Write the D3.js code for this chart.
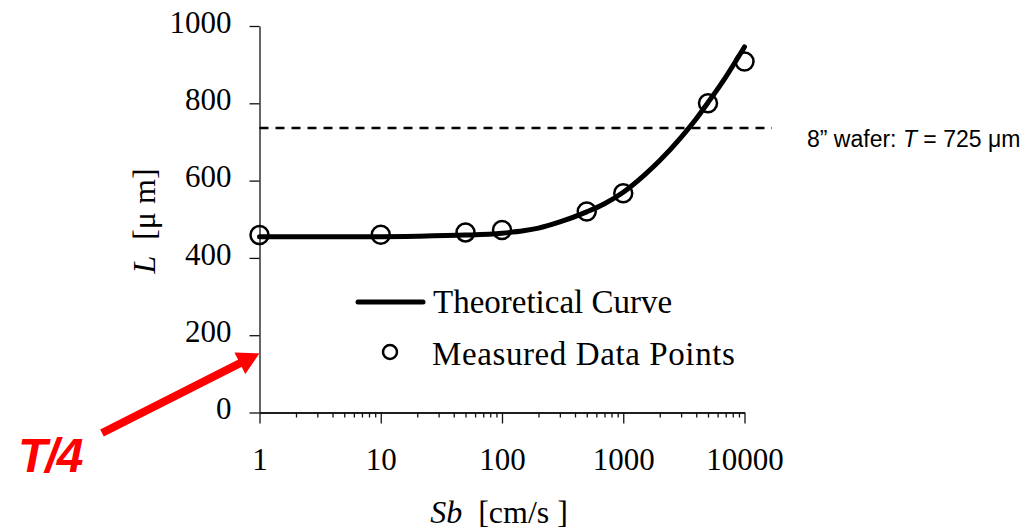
<!DOCTYPE html>
<html>
<head>
<meta charset="utf-8">
<script src="https://cdn.jsdelivr.net/npm/d3@7"></script>
<style>
  html, body { margin: 0; padding: 0; background: #fff; }
  svg { display: block; }
  text { white-space: pre; }
</style>
</head>
<body>
<div id="chart"></div>
<script>
// ---- data ----
const X_TICKS = [1, 10, 100, 1000, 10000];
const Y_TICKS = [0, 200, 400, 600, 800, 1000];

// theoretical curve L(Sb)
const curveSb = [1, 2, 5, 10, 20, 50, 100, 150, 200, 300, 500, 700, 1000, 1500, 2000, 3000, 4000, 5000, 7000, 10000];
const curveL  = [455, 455, 455, 455, 456, 459, 464, 470, 477, 493, 519, 540, 570, 615, 652, 712, 760, 802, 868, 946];

// measured data points
const measuredSb = [1, 10, 50, 100, 500, 1000, 5000, 10000];
const measuredL  = [459, 460, 466, 472, 520, 567, 800, 908];

// 8" wafer thickness reference line (as drawn)
const waferLine = 736;
const arrowTarget = 153; // T/4 arrow points at the y axis here

const width = 1034, height = 529;

const svg = d3.select('#chart')
  .append('svg')
  .attr('width', width)
  .attr('height', height);

// scales
const x = d3.scaleLog().domain([1, 10000]).range([259.5, 744.5]);
const y = d3.scaleLinear().domain([0, 1000]).range([412.5, 26]);

const serif = 'Liberation Serif, Times New Roman, serif';
const sans = 'Liberation Sans, Arial, sans-serif';

// y axis
const yAxis = svg.append('g')
  .attr('transform', `translate(${x(1)},0)`)
  .call(d3.axisLeft(y).tickValues(Y_TICKS).tickSize(10).tickSizeOuter(0).tickPadding(18).tickFormat(d3.format('d')));
yAxis.selectAll('path, line').attr('stroke', '#111').attr('stroke-width', 1.3);
yAxis.selectAll('text')
  .attr('dy', '0.2em')
  .style('font-family', serif)
  .style('font-size', '31px')
  .attr('fill', '#000');

// x axis minor ticks
const minorTicks = [];
[1, 10, 100, 1000].forEach(d => {
  for (let k = 2; k <= 9; k++) minorTicks.push(d * k);
});
const xMinor = svg.append('g')
  .attr('transform', `translate(0,${y(0)})`)
  .call(d3.axisBottom(x).tickValues(minorTicks).tickSize(5).tickSizeOuter(0).tickFormat(''));
xMinor.selectAll('path, line').attr('stroke', '#111').attr('stroke-width', 1.3);

// x axis major ticks + labels
const xAxis = svg.append('g')
  .attr('transform', `translate(0,${y(0)})`)
  .call(d3.axisBottom(x).tickValues(X_TICKS).tickSize(11).tickSizeOuter(0).tickFormat(d3.format('d')));
xAxis.selectAll('path, line').attr('stroke', '#111').attr('stroke-width', 1.3);
xAxis.selectAll('text')
  .attr('y', 57.5)
  .attr('dy', 0)
  .style('font-family', serif)
  .style('font-size', '31px')
  .attr('fill', '#000');

// axis titles
const xTitle = svg.append('text')
  .attr('x', 499)
  .attr('y', 523)
  .attr('text-anchor', 'middle')
  .style('font-family', serif)
  .style('font-size', '32px');
xTitle.append('tspan').style('font-style', 'italic').text('Sb');
xTitle.append('tspan').text('  [cm/s ]');

const yTitle = svg.append('text')
  .attr('transform', 'translate(155,221) rotate(-90)')
  .attr('text-anchor', 'middle')
  .style('font-family', serif)
  .style('font-size', '32px');
yTitle.append('tspan').style('font-style', 'italic').text('L');
yTitle.append('tspan').text('  [μ m]');

// wafer thickness dashed line
svg.append('line')
  .attr('x1', x(1))
  .attr('x2', 772)
  .attr('y1', y(waferLine))
  .attr('y2', y(waferLine))
  .attr('stroke', '#000')
  .attr('stroke-width', 2.5)
  .attr('stroke-dasharray', '9,7');

const waferLabel = svg.append('text')
  .attr('x', 807)
  .attr('y', 147)
  .style('font-family', sans)
  .style('font-size', '23px')
  .attr('fill', '#000');
waferLabel.append('tspan').text('8\u201D wafer: ');
waferLabel.append('tspan').style('font-style', 'italic').text('T');
waferLabel.append('tspan').text(' = 725 μm');

// theoretical curve
const curveData = curveSb.map((d, i) => ({ sb: d, l: curveL[i] }));
const line = d3.line()
  .x(d => x(d.sb))
  .y(d => y(d.l))
  .curve(d3.curveMonotoneX);

svg.append('path')
  .datum(curveData)
  .attr('d', line)
  .attr('fill', 'none')
  .attr('stroke', '#000')
  .attr('stroke-width', 5)
  .attr('stroke-linecap', 'round')
  .attr('stroke-linejoin', 'round');

// measured points
const pts = measuredSb.map((d, i) => ({ sb: d, l: measuredL[i] }));
svg.selectAll('.pt')
  .data(pts)
  .enter()
  .append('circle')
  .attr('class', 'pt')
  .attr('cx', d => x(d.sb))
  .attr('cy', d => y(d.l))
  .attr('r', 9)
  .attr('fill', 'none')
  .attr('stroke', '#000')
  .attr('stroke-width', 2.5);

// legend
const legend = svg.append('g');
legend.append('line')
  .attr('x1', 358).attr('x2', 423)
  .attr('y1', 302).attr('y2', 302)
  .attr('stroke', '#000')
  .attr('stroke-width', 5)
  .attr('stroke-linecap', 'round');
legend.append('text')
  .attr('x', 433)
  .attr('y', 313)
  .style('font-family', serif)
  .style('font-size', '33px')
  .text('Theoretical Curve');
legend.append('circle')
  .attr('cx', 390)
  .attr('cy', 352)
  .attr('r', 7)
  .attr('fill', 'none')
  .attr('stroke', '#000')
  .attr('stroke-width', 2.5);
legend.append('text')
  .attr('x', 432)
  .attr('y', 365)
  .style('font-family', serif)
  .style('font-size', '33px')
  .style('letter-spacing', '0.6px')
  .text('Measured Data Points');

// red T/4 arrow
const tip = [x(1), y(arrowTarget)];
const tail = [102, 433];
const dx = tip[0] - tail[0], dy = tip[1] - tail[1];
const len = Math.hypot(dx, dy);
const ux = dx / len, uy = dy / len;
const headLen = 22, headHalf = 12;
const base = [tip[0] - ux * headLen, tip[1] - uy * headLen];

svg.append('line')
  .attr('x1', tail[0]).attr('y1', tail[1])
  .attr('x2', base[0] + ux * 2).attr('y2', base[1] + uy * 2)
  .attr('stroke', '#ff0000')
  .attr('stroke-width', 8);
svg.append('path')
  .attr('d', d3.line()([
    tip,
    [base[0] - uy * headHalf, base[1] + ux * headHalf],
    [base[0] + uy * headHalf, base[1] - ux * headHalf]
  ]) + 'Z')
  .attr('fill', '#ff0000');

svg.append('text')
  .attr('x', 18)
  .attr('y', 472)
  .style('font-family', sans)
  .style('font-size', '48px')
  .style('font-weight', 'bold')
  .style('font-style', 'italic')
  .style('letter-spacing', '-2px')
  .attr('fill', '#ff0000')
  .text('T/4');
</script>
</body>
</html>
